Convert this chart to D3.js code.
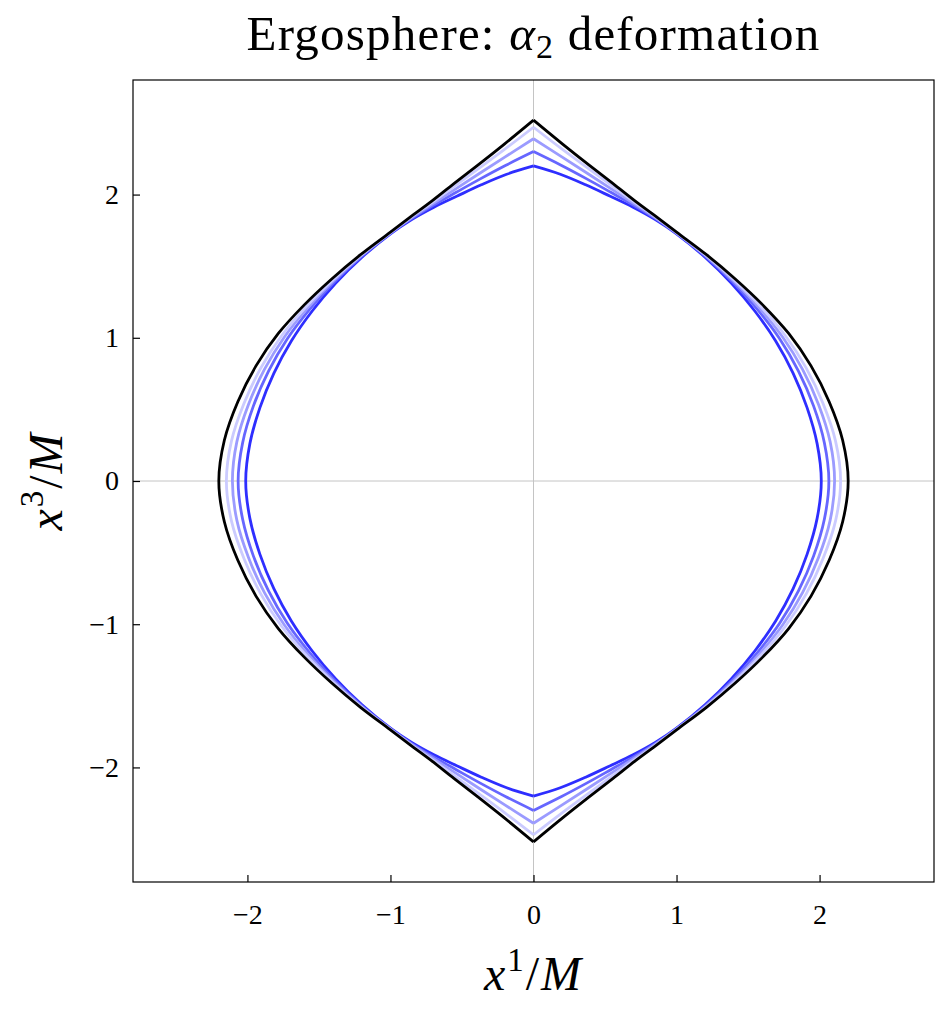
<!DOCTYPE html>
<html>
<head>
<meta charset="utf-8">
<script src="https://cdn.jsdelivr.net/npm/d3@7"></script>
<style>
  body { margin: 0; background: #fff; }
  svg text { font-family: "Liberation Serif", "DejaVu Serif", serif; fill: #000; }
</style>
</head>
<body>
<svg id="chart"></svg>
<script>
// figure size and plot frame
var width = 938;
var height = 1017;
var margin = {top: 80, right: 4, bottom: 135, left: 133};
var w = width - margin.left - margin.right;
var h = height - margin.top - margin.bottom;

// axis ticks
var xTicks = [-2, -1, 0, 1, 2];
var yTicks = [-2, -1, 0, 1, 2];

var angles = [0, 5, 10, 15, 20, 25, 30, 37.5, 45, 52.5, 60, 67.5, 75, 82.5, 90];

// radius sqrt(x1^2 + x3^2) of each contour at those angles (one quadrant, mirrored below)
var bluestR   = [2.20, 2.15, 2.10, 2.06, 2.035, 2.015, 1.995, 1.97, 1.955, 1.95, 1.955, 1.965, 1.98, 2.00, 2.012];
var mediumR   = [2.30, 2.213, 2.142, 2.087, 2.049, 2.021, 1.998, 1.976, 1.967, 1.971, 1.987, 2.005, 2.027, 2.051, 2.065];
var lightR    = [2.39, 2.272, 2.18, 2.11, 2.06, 2.026, 2.0, 1.981, 1.977, 1.988, 2.011, 2.036, 2.063, 2.092, 2.105];
var lightestR = [2.47, 2.324, 2.215, 2.132, 2.071, 2.031, 2.003, 1.985, 1.985, 2.002, 2.032, 2.063, 2.095, 2.13, 2.147];
var kerrR     = [2.52, 2.36, 2.24, 2.15, 2.08, 2.035, 2.005, 1.99, 1.995, 2.02, 2.06, 2.10, 2.14, 2.18, 2.20];

var series = [
  {r: bluestR, color: "#2e2eff"},
  {r: mediumR, color: "#6666ff"},
  {r: lightR, color: "#9b9bff"},
  {r: lightestR, color: "#cbcbff"},
  {r: kerrR, color: "#000000"}
];

var svg = d3.select("#chart")
  .attr("width", width)
  .attr("height", height);

var x = d3.scaleLinear().domain([-2.8, 2.8]).range([0, w]);
var y = d3.scaleLinear().domain([-2.8, 2.8]).range([h, 0]);

var chart = svg.append("g")
  .attr("transform", "translate(" + margin.left + "," + margin.top + ")");

// zero lines
chart.append("line")
  .attr("x1", x(0)).attr("x2", x(0)).attr("y1", 0).attr("y2", h)
  .style("stroke", "#c4c4c4").style("stroke-width", 1);
chart.append("line")
  .attr("x1", 0).attr("x2", w).attr("y1", y(0)).attr("y2", y(0))
  .style("stroke", "#c4c4c4").style("stroke-width", 1);

// contours: right half and left half, each from top cusp to bottom cusp
var line = d3.line()
  .x(function(d) { return x(d[0]); })
  .y(function(d) { return y(d[1]); })
  .curve(d3.curveCatmullRom.alpha(0.5));

function halfCurve(r, sign) {
  var pts = [];
  var n = angles.length;
  // upper quadrant then mirrored lower quadrant
  for (var i = 0; i < n; i++) {
    var t = angles[i] * Math.PI / 180;
    pts.push([sign * r[i] * Math.sin(t), r[i] * Math.cos(t)]);
  }
  for (var j = n - 2; j >= 0; j--) {
    var t2 = angles[j] * Math.PI / 180;
    pts.push([sign * r[j] * Math.sin(t2), -r[j] * Math.cos(t2)]);
  }
  return pts;
}

series.forEach(function(s) {
  [1, -1].forEach(function(sign) {
    chart.append("path")
      .datum(halfCurve(s.r, sign))
      .attr("d", line)
      .style("fill", "none")
      .style("stroke", s.color)
      .style("stroke-width", 2.8)
      .style("stroke-linejoin", "miter");
  });
});

// frame
chart.append("rect")
  .attr("x", 0).attr("y", 0).attr("width", w).attr("height", h)
  .style("fill", "none").style("stroke", "#000").style("stroke-width", 1.2);

// axes with inward ticks
var fmt = function(d) { return d < 0 ? "\u2212" + Math.abs(d) : "" + d; };

var xAxis = chart.append("g")
  .attr("transform", "translate(0," + h + ")")
  .call(d3.axisBottom(x).tickValues(xTicks).tickSizeInner(-7).tickSizeOuter(0).tickPadding(22).tickFormat(fmt));
var yAxis = chart.append("g")
  .call(d3.axisLeft(y).tickValues(yTicks).tickSizeInner(-7).tickSizeOuter(0).tickPadding(14).tickFormat(fmt));

[xAxis, yAxis].forEach(function(a) {
  a.select(".domain").remove();
  a.selectAll(".tick line").style("stroke", "#000").style("stroke-width", 1.2);
  a.selectAll(".tick text")
    .style("font-family", "'Liberation Serif', serif")
    .style("font-size", "28px");
});
xAxis.selectAll(".tick text").attr("dy", "0.71em");

// title
var title = svg.append("text")
  .attr("x", margin.left + w / 2)
  .attr("y", 50)
  .style("text-anchor", "middle")
  .style("font-size", "49px")
  .style("letter-spacing", "1.2px");
title.append("tspan").text("Ergosphere: ");
title.append("tspan").style("font-style", "italic").text("\u03b1");
title.append("tspan").attr("dy", 8).style("font-size", "34px").text("2");
title.append("tspan").attr("dy", -8).text(" deformation");

// x label
var xl = svg.append("text")
  .attr("x", margin.left + w / 2)
  .attr("y", 990)
  .style("text-anchor", "middle")
  .style("font-size", "48px")
  .style("letter-spacing", "2px");
xl.append("tspan").style("font-style", "italic").text("x");
xl.append("tspan").attr("dy", -19).style("font-size", "33px").text("1");
xl.append("tspan").attr("dy", 19).text("/");
xl.append("tspan").style("font-style", "italic").text("M");

// y label
var yl = svg.append("text")
  .attr("transform", "translate(62," + (margin.top + h / 2) + ") rotate(-90)")
  .style("text-anchor", "middle")
  .style("font-size", "48px")
  .style("letter-spacing", "2px");
yl.append("tspan").style("font-style", "italic").text("x");
yl.append("tspan").attr("dy", -19).style("font-size", "33px").text("3");
yl.append("tspan").attr("dy", 19).text("/");
yl.append("tspan").style("font-style", "italic").text("M");
</script>
</body>
</html>
